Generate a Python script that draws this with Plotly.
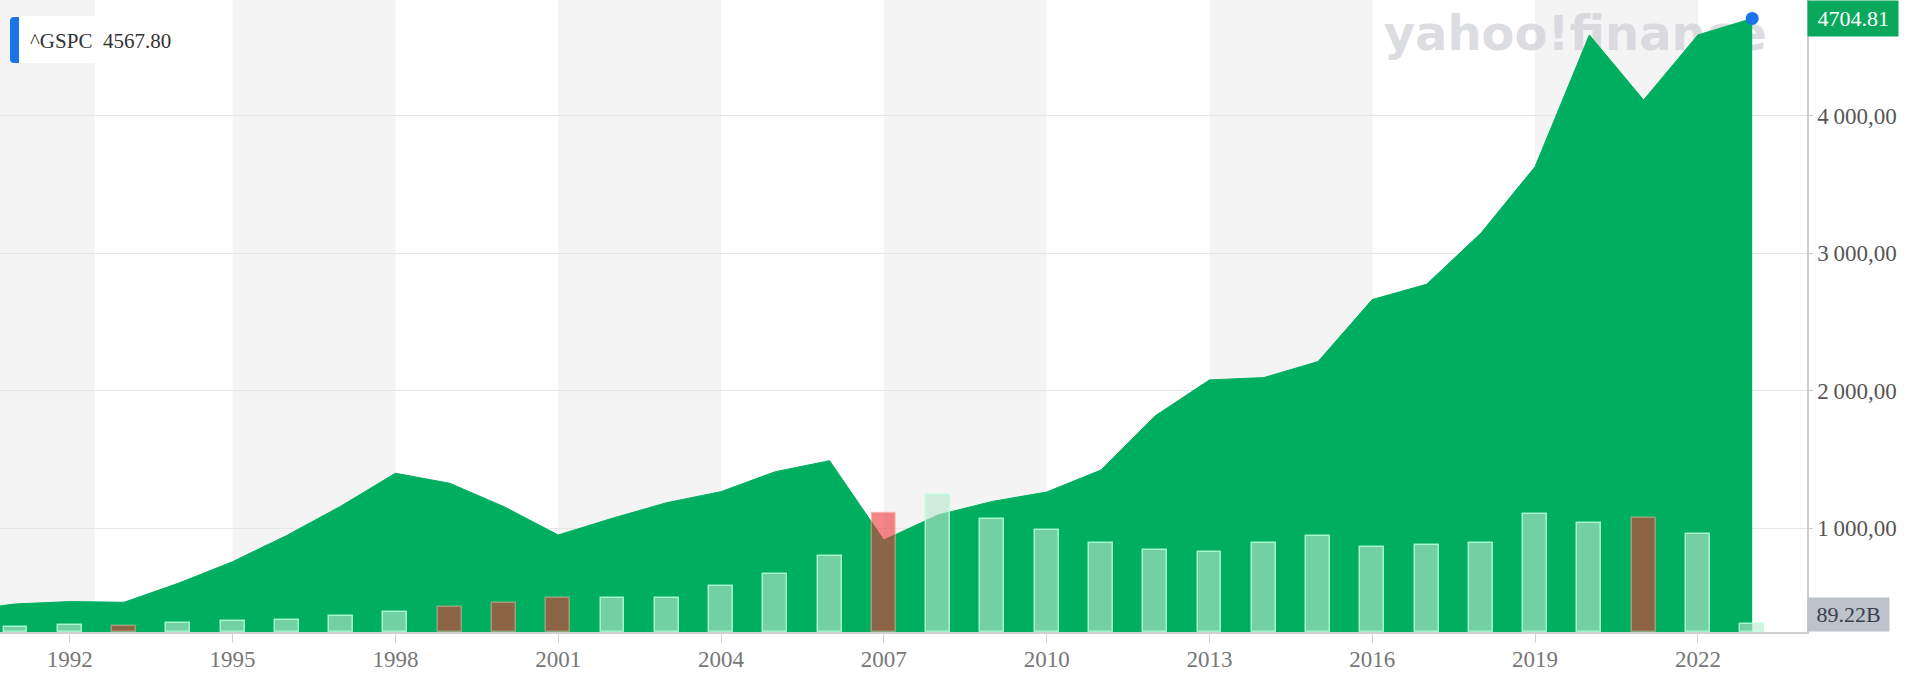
import plotly.graph_objects as go

# ---------------- data ----------------
years = list(range(1990, 2024))
price = [400, 450, 467, 462, 600, 757, 948, 1162, 1400, 1327, 1157, 951, 1073, 1186,
         1266, 1411, 1491, 915, 1097, 1195, 1263, 1423, 1817, 2078, 2095, 2211, 2662,
         2773, 3144, 3628, 4585, 4112, 4585, 4704.81]

vol_years = list(range(1991, 2024))
volume_b = [53, 74, 68, 92, 114, 132, 170, 209, 270, 305, 361, 365, 365, 485, 616, 811,
            1264, 1459, 1197, 1080, 945, 868, 850, 945, 1020, 903, 924, 945, 1257, 1158,
            1215, 1041, 89.22]
down_year = [0, 0, 1, 0, 0, 0, 0, 0, 1, 1, 1, 0, 0, 0, 0, 0,
             1, 0, 0, 0, 0, 0, 0, 0, 0, 0, 0, 0, 0, 0,
             1, 0, 0]

x_ticks = list(range(1992, 2023, 3))
y_ticks = [1000, 2000, 3000, 4000]
y_ticktext = ["1\u2009000,00", "2\u2009000,00", "3\u2009000,00", "4\u2009000,00"]

symbol = "^GSPC"
prev_close = "4567.80"
last_price = price[-1]
last_volume = volume_b[-1]

band_ranges = [(1989.0, 1992.46), (1995, 1998), (2001, 2004), (2007, 2010), (2013, 2016), (2019, 2022)]

# ---------------- styles ----------------
GREEN = "#00AE5F"
W, H = 1920, 676
ML, MR, MT, MB = 0, 113, 0, 44
PW, PH = W - ML - MR, H - MT - MB
SERIF = "Liberation Serif"

def px_x(p):
    return p / PW

def px_y(p):
    return 1 - p / PH

def rounded_left_rect(x0, x1, y0, y1, r):
    # pixel coords (y downward) -> paper path with rounded left corners
    return (f"M {px_x(x0 + r)},{px_y(y0)} L {px_x(x1)},{px_y(y0)} L {px_x(x1)},{px_y(y1)} "
            f"L {px_x(x0 + r)},{px_y(y1)} Q {px_x(x0)},{px_y(y1)} {px_x(x0)},{px_y(y1 - r)} "
            f"L {px_x(x0)},{px_y(y0 + r)} Q {px_x(x0)},{px_y(y0)} {px_x(x0 + r)},{px_y(y0)} Z")

bar_fill = ["rgba(238,49,52,0.59)" if d else "rgba(187,230,204,0.61)" for d in down_year]
bar_line = ["rgba(255,190,180,0.45)" if d else "rgba(185,255,215,0.85)" for d in down_year]

fig = go.Figure()

# watermark (drawn beneath the area)
fig.add_trace(go.Scatter(
    x=[2019.74], y=[4560], mode="text", text=["yahoo!finance"],
    textposition="middle center",
    textfont=dict(family="DejaVu Sans", size=48, color="rgba(205,206,212,0.7)", weight="bold"),
    hoverinfo="skip", showlegend=False, cliponaxis=False,
))

fig.add_trace(go.Scatter(
    x=years, y=price, mode="lines", fill="tozeroy",
    line=dict(color=GREEN, width=1), fillcolor=GREEN,
    showlegend=False, hoverinfo="skip",
))

fig.add_trace(go.Bar(
    x=vol_years, y=volume_b, yaxis="y2", width=0.44,
    marker=dict(color=bar_fill, line=dict(color=bar_line, width=1.5)),
    showlegend=False, hoverinfo="skip",
))

fig.add_trace(go.Scatter(
    x=[years[-1]], y=[last_price], mode="markers",
    marker=dict(color="#1a73e8", size=13),
    showlegend=False, hoverinfo="skip", cliponaxis=False,
))

shapes = []
for a, b in band_ranges:
    shapes.append(dict(type="rect", xref="x", yref="paper", x0=a, x1=b, y0=0, y1=1,
                       fillcolor="#f4f4f4", line=dict(width=0), layer="below"))

# legend label box
shapes.append(dict(type="rect", xref="paper", yref="paper",
                   x0=px_x(12), x1=px_x(182), y0=px_y(63), y1=px_y(16),
                   fillcolor="white", line=dict(width=0), layer="above"))
shapes.append(dict(type="path", xref="paper", yref="paper",
                   path=rounded_left_rect(10, 19, 17, 63, 4),
                   fillcolor="#1a73e8", line=dict(width=0), layer="above"))

annotations = [
    dict(xref="paper", yref="paper", x=px_x(28), y=px_y(41), xanchor="left", yanchor="middle",
         text=f"{symbol}\u2002{prev_close}", showarrow=False,
         font=dict(family=SERIF, size=21, color="#333333")),
    dict(xref="paper", yref="y", x=1, y=last_price, xanchor="left", yanchor="middle",
         text=f"\u2009{last_price:.2f}\u2009", showarrow=False, bgcolor="#0AA85C", borderpad=5,
         font=dict(family=SERIF, size=22, color="white")),
    dict(xref="paper", yref="paper", x=1, y=0, xanchor="left", yanchor="bottom",
         text=f"\u2009{last_volume:.2f}B\u2009", showarrow=False, bgcolor="#BEC2CB", borderpad=4,
         font=dict(family=SERIF, size=22, color="#3a3f4a")),
]

fig.update_layout(
    width=W, height=H,
    margin=dict(l=ML, r=MR, t=MT, b=MB),
    paper_bgcolor="white", plot_bgcolor="white",
    font=dict(family=SERIF),
    bargap=0,
    xaxis=dict(range=[1990.714, 2024.01], tickmode="array", tickvals=x_ticks,
               ticktext=[str(v) for v in x_ticks], showgrid=False, zeroline=False,
               showline=True, linecolor="#d0d0d0", linewidth=2,
               ticks="outside", ticklen=9, tickcolor="#d0d0d0", tickwidth=1,
               ticklabelstandoff=-4,
               tickfont=dict(family=SERIF, size=23, color="#777777")),
    yaxis=dict(range=[246, 4839], side="right", tickmode="array", tickvals=y_ticks,
               ticktext=y_ticktext, showgrid=True, gridcolor="#e6e6e6", gridwidth=1,
               zeroline=False, showline=True, linecolor="#cccccc", linewidth=1.5,
               ticks="outside", ticklen=4, tickcolor="#cccccc",
               tickfont=dict(family=SERIF, size=23, color="#555555")),
    yaxis2=dict(range=[0, 6709], overlaying="y", visible=False, showgrid=False),
    shapes=shapes,
    annotations=annotations,
)

fig.write_html("out.html")
